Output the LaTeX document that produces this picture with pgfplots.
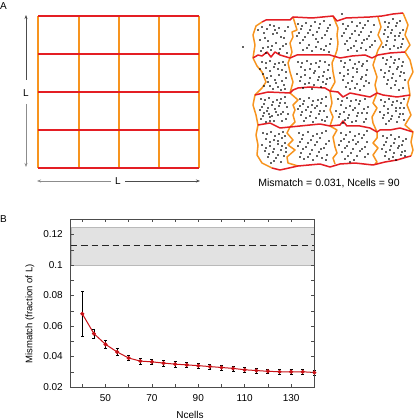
\documentclass[border=0pt]{standalone}
\usepackage{fontspec}
\setmainfont{Liberation Sans}
\usepackage{pgfplots}
\pgfplotsset{compat=1.18}
\usetikzlibrary{arrows.meta}
\definecolor{gridred}{RGB}{228,30,36}
\definecolor{gridorange}{RGB}{247,148,30}
\definecolor{datared}{RGB}{200,16,22}
\definecolor{bandgray}{RGB}{226,226,226}
\begin{document}
\begin{tikzpicture}[font=\fontsize{10}{12}\selectfont]
\path[use as bounding box] (0,0) rectangle (415pt,420pt);
% ---------------- Panel A (pixel canvas) ----------------
\begin{axis}[at={(207.5pt,320pt)}, anchor=center, scale only axis,
  width=415pt, height=200pt, xmin=0, xmax=415, ymin=0, ymax=200,
  y dir=reverse, hide axis, clip=false]
% left regular grid: orange verticals
\addplot[gridorange, line width=1.5pt] coordinates {(38,16) (38,168)};
\addplot[gridorange, line width=1.5pt] coordinates {(79,16) (79,168)};
\addplot[gridorange, line width=1.5pt] coordinates {(119,16) (119,168)};
\addplot[gridorange, line width=1.5pt] coordinates {(159,16) (159,168)};
\addplot[gridorange, line width=1.5pt] coordinates {(199,16) (199,168)};
% red horizontals
\addplot[gridred, line width=1.5pt] coordinates {(38,16) (199,16)};
\addplot[gridred, line width=1.5pt] coordinates {(38,54) (199,54)};
\addplot[gridred, line width=1.5pt] coordinates {(38,92) (199,92)};
\addplot[gridred, line width=1.5pt] coordinates {(38,130) (199,130)};
\addplot[gridred, line width=1.5pt] coordinates {(38,168) (199,168)};
% arrows and L labels
\draw[black!70, line width=0.6pt, -{Stealth[length=4pt,width=3pt]}] (axis cs:26,80) -- (axis cs:26,15);
\draw[black!45, line width=0.6pt, -{Stealth[length=4pt,width=3pt]}] (axis cs:26,104) -- (axis cs:26,167);
\node at (axis cs:26,93) {L};
\draw[black!45, line width=0.6pt, -{Stealth[length=4pt,width=3pt]}] (axis cs:111,181) -- (axis cs:37,181);
\draw[black!70, line width=0.6pt, -{Stealth[length=4pt,width=3pt]}] (axis cs:125,181) -- (axis cs:200,181);
\node at (axis cs:118,181) {L};
\node[anchor=west, inner sep=0pt] at (axis cs:0,6) {A};
\node[anchor=west, inner sep=0pt] at (axis cs:0,219) {B};
% right irregular tissue: dots
\addplot[only marks, mark=*, mark size=0.6pt, black] coordinates {
(262,27) (270,25) (279,28) (285,31) (264,33) (273,34) (281,37) (260,40) (268,41) (276,43) (286,44) (263,48) (271,50) (280,49) (287,53) (266,53) (275,30) (283,46) (261,51)
(258,30) (267,29) (277,33) (284,38) (265,38) (272,46) (279,53) (268,47) (288,27) (274,26)
(298,24) (306,23) (315,22) (324,21) (330,25) (301,29) (310,30) (319,28) (327,31) (297,36) (305,37) (313,35) (322,38) (331,39) (300,43) (309,45) (318,42) (326,46) (303,50) (312,51) (321,49) (329,52)
(302,26) (311,26) (320,24) (328,28) (299,33) (308,33) (317,32) (325,35) (303,40) (316,39) (307,48) (316,47) (324,50) (330,44)
(343,24) (352,22) (360,23) (368,21) (374,25) (346,29) (355,31) (363,28) (371,32) (342,36) (350,38) (359,35) (367,39) (375,41) (345,44) (354,46) (362,43) (370,47) (348,50) (357,51) (366,50)
(348,26) (357,26) (365,25) (344,33) (352,34) (361,32) (369,36) (347,41) (356,41) (364,40) (351,48) (361,48) (372,45)
(385,22) (393,19) (400,21) (388,27) (396,26) (403,30) (384,34) (391,33) (399,36) (387,41) (395,40) (402,44) (383,47) (390,49) (398,48)
(389,23) (397,23) (385,30) (392,30) (400,33) (388,37) (395,36) (403,39) (386,45) (394,46) (401,47)
(262,62) (270,61) (279,63) (285,65) (266,68) (274,67) (282,70) (263,74) (271,76) (279,75) (286,78) (268,82) (276,83) (284,85) (273,89) (281,90)
(266,63) (275,64) (283,62) (260,69) (270,71) (278,69) (286,72) (267,78) (275,80) (282,81) (264,86) (270,86) (278,87) (285,89)
(298,62) (307,61) (316,63) (325,62) (301,67) (310,69) (319,67) (328,70) (297,74) (305,75) (314,73) (323,76) (330,78) (300,81) (309,83) (318,80) (326,84) (303,88) (312,89) (321,87)
(302,63) (311,64) (320,61) (329,65) (305,70) (315,71) (324,72) (301,77) (310,78) (319,77) (327,79) (305,84) (314,85) (323,82)
(341,61) (350,60) (359,62) (367,61) (344,67) (353,68) (362,66) (340,73) (348,74) (357,72) (366,75) (343,80) (352,81) (361,79) (369,83) (346,87) (355,88) (364,86)
(345,63) (355,64) (363,64) (348,70) (357,69) (367,70) (344,76) (353,77) (362,77) (348,83) (357,84) (366,81) (350,89) (360,90)
(383,58) (391,57) (399,59) (386,64) (394,63) (402,66) (381,70) (389,71) (397,69) (404,73) (384,77) (392,78) (400,76) (387,84) (395,85) (403,88)
(387,60) (395,60) (403,62) (390,67) (398,67) (385,73) (393,74) (401,72) (388,80) (396,81) (405,80) (391,88) (399,90)
(261,99) (269,98) (277,100) (285,97) (264,104) (272,105) (280,103) (287,107) (260,110) (267,111) (275,109) (283,112) (263,116) (270,117) (278,115) (286,119) (266,122) (274,121) (262,107) (269,114) (276,112)
(265,100) (273,102) (281,99) (268,108) (279,106) (285,103) (264,113) (272,116) (281,114) (288,114) (261,119) (270,121) (282,121)
(300,99) (309,98) (318,100) (326,97) (303,104) (312,105) (321,103) (298,109) (306,110) (315,108) (324,111) (301,115) (310,116) (319,114) (327,117) (304,121) (313,122) (322,120)
(304,101) (313,101) (322,99) (300,106) (308,107) (317,106) (326,106) (302,112) (311,112) (320,111) (306,118) (316,118) (325,121)
(338,99) (347,98) (356,100) (365,99) (341,105) (350,106) (359,104) (368,107) (336,111) (344,112) (353,110) (362,113) (339,117) (348,118) (357,116) (366,119) (343,123) (352,122)
(342,101) (351,101) (360,101) (346,108) (355,108) (364,109) (340,114) (349,115) (358,113) (367,113) (345,120) (356,121) (364,122)
(381,100) (389,99) (397,101) (404,99) (384,106) (392,105) (400,108) (380,112) (388,113) (396,111) (403,114) (383,118) (391,119) (399,117) (386,124)
(385,102) (393,102) (401,103) (388,109) (396,108) (404,108) (384,115) (392,116) (400,114) (389,121) (397,122) (404,120)
(263,133) (271,132) (279,134) (285,136) (266,139) (274,140) (282,138) (262,145) (270,146) (278,144) (286,148) (265,151) (273,152) (281,150) (268,157) (276,158) (284,156) (271,163)
(267,134) (275,136) (283,132) (270,142) (278,141) (285,143) (266,148) (274,149) (282,146) (269,154) (278,155) (286,152) (274,161) (281,162)
(299,133) (308,132) (317,134) (326,131) (302,139) (311,140) (320,138) (329,141) (298,146) (306,147) (315,145) (324,148) (301,153) (310,154) (319,152) (327,155) (304,159) (313,160) (322,158)
(303,135) (313,136) (322,133) (300,142) (308,143) (317,142) (326,144) (303,149) (312,150) (321,149) (300,157) (308,157) (317,156) (326,160)
(341,133) (350,132) (359,134) (367,131) (344,139) (353,140) (362,138) (339,145) (347,146) (356,144) (365,147) (342,152) (351,153) (360,151) (368,154) (345,159) (354,160)
(346,135) (355,136) (364,135) (341,141) (349,142) (358,142) (367,142) (345,148) (353,149) (362,149) (348,156) (357,156) (365,157) (350,162)
(383,136) (391,135) (399,137) (406,139) (386,142) (394,143) (402,145) (382,149) (390,150) (398,148) (405,151) (385,156) (393,157) (401,155)
(387,138) (395,139) (403,141) (384,145) (391,146) (399,146) (386,152) (394,153) (402,152) (389,159) (396,160) (405,156)
(243,47) (342,14)
};
% orange column boundaries
\addplot[gridorange, line width=1.5pt, line join=round] coordinates {(262,22) (256,26) (253,35) (255,45) (253,58) (257,66) (262,72) (266,82) (262,88) (255,95) (253,105) (256,115) (258,125) (256,135) (258,145) (257,155) (262,163) (272,168)};
\addplot[gridorange, line width=1.5pt, line join=round] coordinates {(293,17) (297,30) (292,32) (293,37) (290,43) (292,52) (290,58) (288,63) (290,72) (293,82) (290,93) (298,100) (293,105) (295,110) (293,115) (295,122) (290,127) (287,133) (293,140) (288,145) (295,150) (287,157) (288,163) (298,166)};
\addplot[gridorange, line width=1.5pt, line join=round] coordinates {(333,16) (338,28) (337,35) (338,43) (337,50) (335,56) (332,63) (333,72) (335,82) (330,91) (332,103) (330,110) (333,117) (330,126) (337,130) (333,137) (335,147) (337,153) (333,158) (335,164)};
\addplot[gridorange, line width=1.5pt, line join=round] coordinates {(378,17) (381,27) (378,35) (382,43) (378,50) (376,56) (373,65) (377,77) (375,85) (377,93) (373,103) (377,108) (372,117) (373,123) (377,132) (377,138) (373,143) (378,148) (373,155) (377,162) (375,164)};
\addplot[gridorange, line width=1.5pt, line join=round] coordinates {(403,13) (408,25) (405,35) (410,45) (405,52) (410,60) (413,72) (408,82) (410,95) (407,105) (411,115) (405,125) (413,132) (411,142) (413,150) (411,156)};
% red row boundaries
\addplot[gridred, line width=1.5pt, line join=round] coordinates {(262,22) (266,20) (290,20) (293,17) (312,18) (333,16) (337,21) (346,18) (370,17) (382,16) (393,14) (403,13)};
\addplot[gridred, line width=1.5pt, line join=round] coordinates {(253,58) (258,55) (262,56) (267,52) (271,57) (275,52) (280,55) (290,58) (297,55) (312,55) (330,55) (340,58) (352,56) (365,55) (372,58) (378,55) (390,53) (405,52)};
\addplot[gridred, line width=1.5pt, line join=round] coordinates {(255,95) (268,92) (290,93) (293,90) (298,88) (310,87) (325,88) (330,91) (338,92) (343,97) (350,93) (360,95) (370,97) (377,93) (383,95) (397,97) (410,95)};
\addplot[gridred, line width=1.5pt, line join=round] coordinates {(258,125) (270,123) (280,128) (290,127) (300,126) (310,125) (320,124) (330,126) (340,125) (343,121) (347,126) (360,126) (370,128) (377,132) (380,130) (390,130) (400,128) (413,132)};
\addplot[gridred, line width=1.5pt, line join=round] coordinates {(272,168) (280,170) (298,166) (320,164) (330,167) (340,164) (355,163) (373,165) (385,162) (397,160) (407,157) (411,156)};
\node[font=\fontsize{10.5}{12}\selectfont] at (axis cs:329,183) {Mismatch = 0.031, Ncells = 90};
\end{axis}
% ---------------- Panel B ----------------
\begin{axis}[at={(70.7pt,33pt)}, anchor=south west, scale only axis,
  width=243.6pt, height=167.7pt,
  xmin=35, xmax=140, ymin=0.02, ymax=0.13,
  xtick={40,50,60,70,80,90,100,110,120,130,140},
  xticklabels={,50,,70,,90,,110,,130,},
  ytick={0.02,0.03,0.04,0.05,0.06,0.07,0.08,0.09,0.1,0.11,0.12},
  yticklabels={0.02,,0.04,,0.06,,0.08,,0.1,,0.12},
  scaled y ticks=false,
  tick align=inside, major tick length=3pt,
  tick style={black!70, line width=0.5pt},
  axis line style={black!70, line width=0.6pt},
  ticklabel style={font=\fontsize{10}{12}\selectfont},
  xticklabel style={yshift=-4pt},
  yticklabel style={xshift=-4.4pt},
  xlabel={Ncells}, ylabel={Mismatch (fraction of L)},
  xlabel style={at={(axis description cs:0.49,-0.167)}, anchor=center},
  ylabel style={at={(axis description cs:-0.167,0.435)}, anchor=center, font=\fontsize{9.5}{11}\selectfont},
  axis on top, clip=false]
\addplot[fill=bandgray, draw=gray!55, line width=0.4pt] coordinates {(35,0.1) (140,0.1) (140,0.125) (35,0.125)} -- cycle;
\addplot[black!85, line width=1pt, dash pattern=on 6.5pt off 4pt] coordinates {(35,0.113) (140,0.113)};
\addplot[datared, line width=1pt, mark=*, mark size=1.5pt,
  error bars/.cd, y dir=both, y explicit,
  error bar style={black, line width=0.8pt},
  error mark options={rotate=90, mark size=1.5pt, black, line width=0.6pt}]
 coordinates {
 (40,0.068) +- (0,0.015)
 (45,0.055) +- (0,0.003)
 (50,0.048) +- (0,0.0025)
 (55,0.043) +- (0,0.0025)
 (60,0.039) +- (0,0.0015)
 (65,0.037) +- (0,0.0018)
 (70,0.0365) +- (0,0.0018)
 (75,0.0357) +- (0,0.0018)
 (80,0.035) +- (0,0.0018)
 (85,0.0345) +- (0,0.0017)
 (90,0.034) +- (0,0.0017)
 (95,0.0334) +- (0,0.0016)
 (100,0.0328) +- (0,0.0016)
 (105,0.0322) +- (0,0.0016)
 (110,0.0313) +- (0,0.0015)
 (115,0.0308) +- (0,0.0015)
 (120,0.0303) +- (0,0.0015)
 (125,0.030) +- (0,0.0015)
 (130,0.030) +- (0,0.0015)
 (135,0.030) +- (0,0.0015)
 (140,0.0295) +- (0,0.0015)
 };
\end{axis}
\end{tikzpicture}
\end{document}
